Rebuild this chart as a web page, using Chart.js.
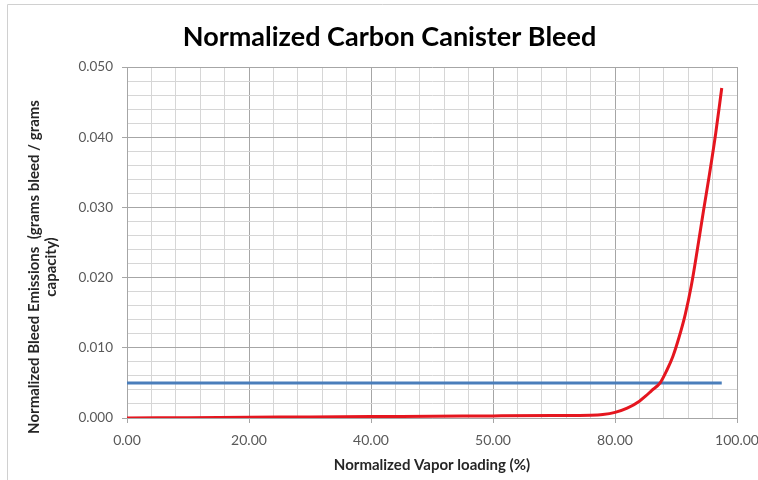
<!DOCTYPE html>
<html>
<head>
<meta charset="utf-8">
<title>Normalized Carbon Canister Bleed</title>
<script src="https://cdn.jsdelivr.net/npm/chart.js@4.4.1/dist/chart.umd.min.js"></script>
<style>
  html, body { margin: 0; padding: 0; background: #fff; }
  #wrap { position: relative; width: 758px; height: 480px; }
</style>
</head>
<body>
<div id="wrap"><canvas id="bleedChart" width="758" height="480"></canvas></div>
<script>
// tick labels as printed on the chart
const xTickLabels = ['0.00', '20.00', '40.00', '50.00', '80.00', '100.00'];
const yTickLabels = ['0.000', '0.010', '0.020', '0.030', '0.040', '0.050'];

// red curve: normalized vapor loading (%) vs bleed emissions
const loading = [0, 10, 20, 30, 40, 50, 60, 70, 76, 78, 80, 82, 84, 85, 86, 87.4, 88.5, 89.5, 90.5, 91.5, 92.5, 93.5, 94.5, 95.5, 96.5, 97.5];
const bleed = [0.0000, 0.00005, 0.0001, 0.00015, 0.0002, 0.00025, 0.0003, 0.00035, 0.0004, 0.0005, 0.0008, 0.0014, 0.0024, 0.0031, 0.0039, 0.0050, 0.0068, 0.0088, 0.0115, 0.0147, 0.0188, 0.0240, 0.0295, 0.0348, 0.0405, 0.0470];

// blue limit line
const limitX = [0, 97.5];
const limitY = [0.005, 0.005];

const yTitle = ['Normalized Bleed Emissions  (grams bleed / grams', 'capacity)'];

const majorGrid = '#a6a6a6';
const minorGrid = '#d6d6d6';

const toPoints = (xs, ys) => xs.map((x, i) => ({ x: x, y: ys[i] }));

// light frame round the chart, and the two-line y title
const framePlugin = {
    id: 'frame',
    beforeDraw(chart) {
        const ctx = chart.ctx;
        ctx.save();
        ctx.strokeStyle = '#d0d0d0';
        ctx.lineWidth = 1;
        ctx.beginPath();
        ctx.moveTo(7.5, 480);
        ctx.lineTo(7.5, 4.5);
        ctx.lineTo(758, 4.5);
        ctx.stroke();
        ctx.restore();
    },
    afterDraw(chart) {
        const ctx = chart.ctx;
        ctx.save();
        ctx.translate(0, 267);
        ctx.rotate(-Math.PI / 2);
        ctx.fillStyle = '#262626';
        ctx.font = 'bold 15px Lato';
        ctx.textAlign = 'center';
        ctx.textBaseline = 'middle';
        ctx.fillText(yTitle[0], 0, 34);
        ctx.fillText(yTitle[1], 0, 51);
        ctx.restore();
    }
};

const ctx = document.getElementById('bleedChart').getContext('2d');
new Chart(ctx, {
    type: 'scatter',
    data: {
        datasets: [
            {
                label: 'Bleed',
                data: toPoints(loading, bleed),
                showLine: true,
                borderColor: '#e5161f',
                backgroundColor: '#e5161f',
                borderWidth: 3,
                pointRadius: 0,
                cubicInterpolationMode: 'monotone'
            },
            {
                label: 'Limit',
                data: toPoints(limitX, limitY),
                showLine: true,
                borderColor: '#4a7ebb',
                backgroundColor: '#4a7ebb',
                borderWidth: 3,
                pointRadius: 0
            }
        ]
    },
    options: {
        responsive: false,
        animation: false,
        layout: { padding: { left: 42, right: 21, top: 0, bottom: 0 } },
        plugins: {
            legend: { display: false },
            tooltip: { enabled: false },
            title: {
                display: true,
                text: 'Normalized Carbon Canister Bleed',
                color: '#000',
                font: { family: 'Lato', size: 27, weight: 'bold' },
                padding: { top: 21, bottom: 13.6 }
            }
        },
        scales: {
            x: {
                type: 'linear',
                min: 0,
                max: 100,
                afterFit(scale) {
                    scale.height = 62;
                    scale.paddingLeft = 0;
                    scale.paddingRight = 0;
                },
                ticks: {
                    stepSize: 4,
                    autoSkip: false,
                    maxRotation: 0,
                    padding: 9,
                    color: '#595959',
                    font: { family: 'Lato', size: 14 },
                    callback: (v) => (v % 20 === 0 ? xTickLabels[v / 20] : '')
                },
                grid: {
                    color: (c) => (c.tick && c.tick.value % 20 === 0 ? majorGrid : minorGrid),
                    tickColor: (c) => (c.tick && c.tick.value % 20 === 0 ? majorGrid : 'rgba(0,0,0,0)'),
                    tickLength: 5
                },
                border: { color: majorGrid },
                title: {
                    display: true,
                    text: 'Normalized Vapor loading (%)',
                    color: '#262626',
                    font: { family: 'Lato', size: 15, weight: 'bold' },
                    padding: { top: 0, bottom: 6 }
                }
            },
            y: {
                min: 0,
                max: 0.05,
                afterFit(scale) {
                    scale.width = 85;
                    scale.paddingTop = 0;
                    scale.paddingBottom = 0;
                },
                ticks: {
                    stepSize: 0.002,
                    autoSkip: false,
                    padding: 9,
                    color: '#595959',
                    font: { family: 'Lato', size: 13.5 },
                    callback: (v) => {
                        const k = Math.round(v * 1000);
                        return k % 10 === 0 ? yTickLabels[k / 10] : '';
                    }
                },
                grid: {
                    color: (c) => (c.tick && Math.round(c.tick.value * 1000) % 10 === 0 ? majorGrid : minorGrid),
                    tickColor: (c) => (c.tick && Math.round(c.tick.value * 1000) % 10 === 0 ? majorGrid : 'rgba(0,0,0,0)'),
                    tickLength: 5
                },
                border: { color: majorGrid }
            }
        }
    },
    plugins: [framePlugin]
});
</script>
</body>
</html>
